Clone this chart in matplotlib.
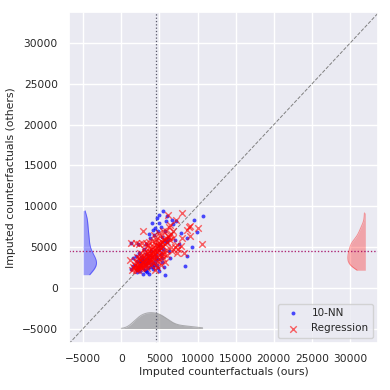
import numpy as np
import matplotlib
matplotlib.use('Agg')
import matplotlib.pyplot as plt
import seaborn as sns

# data: imputed counterfactuals, ours (x) vs others (y)
knn_x = [5500, 4720, 5950, 3980, 4980, 6600, 7170, 9560, 10660, 4770, 5720, 3760, 9880, 8570,
         1270, 2150, 3200, 6290, 8570, 6380, 8340, 1570, 3240, 4190, 4850, 5720,
         4400, 5300, 7600, 9300,
         2500, 3000, 3500, 4000, 4500, 2200, 2800, 3300, 3800, 4200, 4800, 3900, 3200, 2600,
         2000, 1800, 2400, 2900, 3600, 4100, 4700, 5300, 5600, 4900, 3400, 2700, 3700, 3000,
         2300, 1500, 1300, 2100, 4400, 3100, 3900, 4600, 5400,
         2650, 3150, 3450, 2050, 4350, 2750, 3650, 1950, 2450, 3350, 5000, 5500, 5200, 6100,
         5700, 5100,
         4300, 5200, 3600, 6800, 4900, 7800, 6000, 7000, 4100, 5800]
knn_y = [9460, 8570, 8760, 7950, 7950, 8360, 8150, 8360, 8760, 6930, 6930, 6120, 6850, 6120,
         5510, 5390, 5390, 4480, 3870, 3670, 2640, 2640, 2030, 2240, 2450, 1600,
         7300, 6200, 5400, 5000,
         3000, 3500, 3200, 3800, 4000, 2600, 2400, 2800, 2600, 3000, 3500, 4500, 4100, 3800,
         3300, 2800, 2000, 1700, 1700, 2500, 2800, 3100, 2500, 2100, 3600, 3100, 4000, 4700,
         4300, 3700, 2300, 1900, 3300, 2200, 2900, 3600, 3700,
         2750, 3150, 2450, 2250, 2750, 3450, 3350, 3850, 3250, 1950, 4600, 4800, 4200, 6000,
         5700, 5300,
         6500, 7400, 6600, 7800, 8900, 6700, 5600, 5900, 7100, 8200]

reg_x = [7990, 6160, 9000, 10090, 2880, 7990, 1270, 10610, 8570, 2680, 1880, 4450, 2010, 1130,
         1450, 1720, 1980, 2150, 2330, 2480, 2610, 2770, 2890, 3020, 3150, 3260, 3380, 3470,
         3590, 3680, 3790, 3880, 3990, 4110, 4220, 4330, 4450, 4560, 4680, 4790, 4910, 5030,
         5160, 5290, 5420, 5560, 5710, 5860, 6020, 6190, 6370, 6560, 6780,
         1850, 2050, 2250, 2420, 2560, 2700, 2840, 2960, 3080, 3200, 3330, 3450, 3560, 3700,
         3820, 3950, 4080, 4200, 4350, 4500, 4650, 4820, 5000, 5200, 5400, 5650, 5900, 6200,
         2600, 3100, 3400, 2300, 3900, 4400, 5100, 5600, 6500, 3600, 4900, 2900, 3300, 3750,
         4150, 4600, 5050, 2450, 2000, 1600,
         7330, 7770, 7330, 8880, 6800, 6300, 7400, 8200, 5700, 5200, 4700, 9000,
         1900, 2300, 3300, 3700,
         4200, 4800, 5500, 6000, 6600, 7000, 5300, 4600,
         2000, 2500, 3000, 3500, 4000, 4500, 5000, 5500,
         5900, 6400, 4300, 7200]
reg_y = [9180, 8970, 7540, 7340, 6930, 6120, 5510, 5390, 7140, 5470, 3230, 2200, 2410, 3430,
         2150, 2480, 2230, 2710, 2390, 2950, 2560, 3120, 2780, 3340, 2930, 3560, 3180, 3810,
         3370, 3990, 3520, 4230, 3760, 4420, 3950, 4680, 4160, 4890, 4370, 5120, 4620, 5380,
         4850, 5610, 5090, 5870, 5330, 6120, 5590, 6380, 5850, 6640, 6080,
         2750, 3050, 2150, 3350, 2420, 3600, 2600, 3850, 2700, 4050, 2850, 4300, 3050, 4500,
         3200, 4700, 3400, 4950, 3600, 5200, 3800, 5450, 4050, 5700, 4300, 6000, 4600, 6250,
         3950, 4400, 2400, 3600, 2800, 5600, 6300, 4100, 5000, 4900, 3500, 3100, 3500, 3700,
         4100, 4550, 4950, 2650, 2500, 2600,
         5270, 5060, 4250, 7510, 7000, 7400, 4700, 4300, 3200, 2800, 2500, 6400,
         5450, 5350, 5450, 5600,
         3000, 3300, 3600, 4000, 4500, 5000, 4000, 2800,
         3800, 4300, 4800, 5200, 5700, 6000, 6700, 7000,
         6900, 7700, 6500, 8300]

# axis limits and where the density curves sit
lim_x = (-6850, 33650)
lim_y = (-6750, 33800)
kde_left_base, kde_left_h = -5000, 1750
kde_right_base, kde_right_h = 32000, 2300
kde_bottom_base, kde_bottom_h = -5000, 1950


def kde(vals, grid):
    vals = np.asarray(vals, float)
    bw = vals.std(ddof=1) * len(vals) ** (-1 / 5)
    z = (grid[:, None] - vals[None, :]) / bw
    d = np.exp(-0.5 * z ** 2).sum(1)
    return d / d.max()


sns.set_theme(style='darkgrid')
plt.rcParams['font.family'] = ['DejaVu Sans']

fig, ax = plt.subplots(figsize=(3.9, 3.9), dpi=100)
fig.subplots_adjust(left=0.177, right=0.969, top=0.969, bottom=0.121)

# diagonal y = x
ax.plot(lim_x, lim_x, ls='--', color='gray', lw=0.7, zorder=1)

# scatter
ax.scatter(knn_x, knn_y, s=8, color='blue', alpha=0.7, lw=0, label='10-NN', zorder=3)
ax.scatter(reg_x, reg_y, s=22, marker='x', color='red', alpha=0.6, lw=1, label='Regression', zorder=4)

# mean lines
all_x = knn_x + reg_x
ax.axvline(np.mean(all_x), color='#555566', ls=':', lw=0.9, zorder=2)
ax.axhline(np.mean(knn_y), color='blue', ls=':', lw=0.9, alpha=0.6, zorder=2)
ax.axhline(np.mean(reg_y), color='red', ls=':', lw=0.9, alpha=0.6, zorder=2)

# density of 10-NN y on the left
g = np.linspace(min(knn_y), max(knn_y), 200)
d = kde(knn_y, g) * kde_left_h
ax.fill_betweenx(g, kde_left_base, kde_left_base + d, color='blue', alpha=0.35, lw=0)
ax.plot(kde_left_base + d, g, color='blue', alpha=0.4, lw=0.7)

# density of regression y on the right
g = np.linspace(min(reg_y), max(reg_y), 200)
d = kde(reg_y, g) * kde_right_h
ax.fill_betweenx(g, kde_right_base - d, kde_right_base, color='red', alpha=0.3, lw=0)
ax.plot(kde_right_base - d, g, color='red', alpha=0.4, lw=0.7)

# density of ours (x) at the bottom
g = np.linspace(0, max(all_x), 200)
d = kde(all_x, g) * kde_bottom_h
ax.fill_between(g, kde_bottom_base, kde_bottom_base + d, color='gray', alpha=0.55, lw=0)
ax.plot(g, kde_bottom_base + d, color='gray', alpha=0.6, lw=0.7)

ax.set_xlim(lim_x)
ax.set_ylim(lim_y)
ax.set_xticks([-5000, 0, 5000, 10000, 15000, 20000, 25000, 30000])
ax.set_yticks([-5000, 0, 5000, 10000, 15000, 20000, 25000, 30000])
ax.tick_params(labelsize=7.7, pad=2)
ax.set_xlabel('Imputed counterfactuals (ours)', fontsize=7.8, labelpad=2)
ax.set_ylabel('Imputed counterfactuals (others)', fontsize=7.8, labelpad=4)
ax.legend(loc='lower right', fontsize=7.5, markerscale=1.0)

fig.savefig('out.png', dpi=100)
